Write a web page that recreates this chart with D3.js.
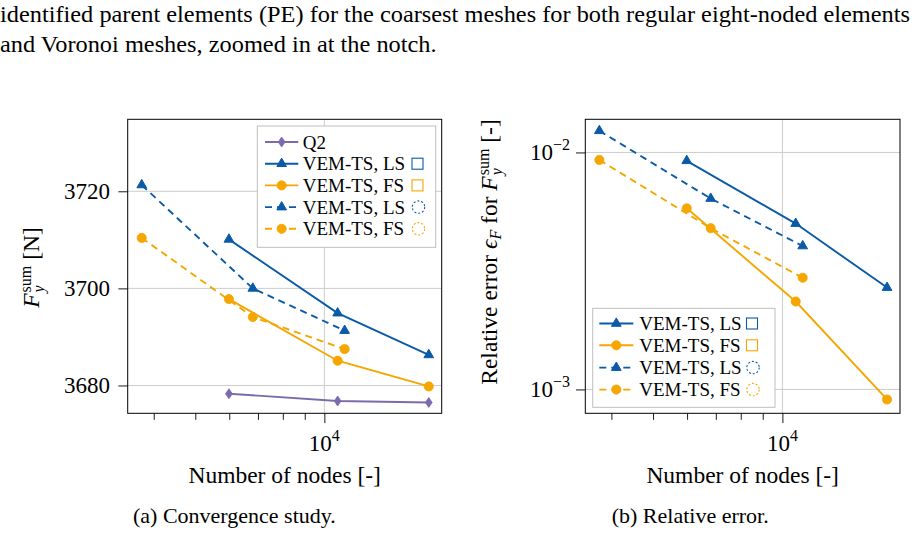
<!DOCTYPE html>
<html><head><meta charset="utf-8">
<script src="https://cdn.jsdelivr.net/npm/d3@7"></script>
<style>
body{margin:0;background:#fff}
svg{display:block}
text{font-family:"Liberation Serif","Times New Roman",serif;fill:#000}
</style>
</head><body>
<svg id="c" width="920" height="536"></svg>
<script>
// ---------------- data ----------------
const nodesRegular = [5990, 10740, 17520];
const nodesVoronoi = [3750, 6810, 11150];
const forceQ2    = [3678.3, 3676.8, 3676.5];
const forceLSReg = [3710.1, 3694.9, 3686.3];
const forceFSReg = [3697.8, 3685.1, 3679.8];
const forceLSVor = [3721.3, 3700.0, 3691.3];
const forceFSVor = [3710.4, 3694.1, 3687.5];
const errLSReg = [0.00922, 0.00501, 0.00269];
const errFSReg = [0.00581, 0.00235, 0.000907];
const errLSVor = [0.01234, 0.00639, 0.00403];
const errFSVor = [0.00930, 0.00479, 0.00296];
const xMajorTicks = [1e4];
const xMinorTicks = [4000, 5000, 6000, 7000, 8000, 9000];
const forceTicks = [3680, 3700, 3720];
const errTicks = [1e-3, 1e-2];
const errTickExp = ["\u22123", "\u22122"];
const legendLabels = ["Q2", "VEM-TS, LS", "VEM-TS, FS", "VEM-TS, LS", "VEM-TS, FS"];
const captionA = "(a) Convergence study.";
const captionB = "(b) Relative error.";
const xLabel = "Number of nodes [-]";
const topLines = ["identified parent elements (PE) for the coarsest meshes for both regular eight-noded elements",
                  "and Voronoi meshes, zoomed in at the notch."];

// ---------------- styles ----------------
const BLUE = "#0a5aa8", ORANGE = "#f5a600", PURPLE = "#7b6aae", GRID = "#cccccc";
const DASH = "7,5";
const svg = d3.select("#c");

// top paragraph (stretched horizontally to the reference's line width)
const t1 = svg.append("text").attr("x", 0).attr("y", 22).style("font-size", "22.5px").text(topLines[0]);
const t2 = svg.append("text").attr("x", 0).attr("y", 52).style("font-size", "22.5px").text(topLines[1]);
const w1 = t1.node().getComputedTextLength();
const w2 = t2.node().getComputedTextLength();
const stretch = 910 / w1;
t1.attr("textLength", 910).attr("lengthAdjust", "spacingAndGlyphs");
t2.attr("textLength", w2 * stretch).attr("lengthAdjust", "spacingAndGlyphs");

// ---------------- helpers ----------------
function marker(g, type, x, y, color) {
  if (type === "circle") {
    g.append("circle").attr("cx", x).attr("cy", y).attr("r", 4.6)
      .attr("fill", color).attr("stroke", color).attr("stroke-width", 0.8);
  } else if (type === "triangle") {
    const R = 5.6;
    g.append("path").attr("d", `M${x},${y - R}L${x + R * 0.866},${y + R / 2}L${x - R * 0.866},${y + R / 2}Z`)
      .attr("fill", color).attr("stroke", color).attr("stroke-width", 1).attr("stroke-linejoin", "miter");
  } else if (type === "diamond") {
    g.append("path").attr("d", `M${x},${y - 5}L${x + 3.4},${y}L${x},${y + 5}L${x - 3.4},${y}Z`)
      .attr("fill", color).attr("stroke", color).attr("stroke-width", 0.8);
  }
}

// math-ish label builder, pieces laid out along baseline
function buildLabel(g, pieces) {
  let cur = 0;
  const inner = g.append("g");
  pieces.forEach(p => {
    if (p.stack) {
      let mw = 0;
      p.stack.forEach(s => {
        const t = inner.append("text").attr("x", cur).attr("y", -s.shift)
          .style("font-size", s.size + "px").style("font-style", s.italic ? "italic" : "normal").text(s.text);
        mw = Math.max(mw, t.node().getComputedTextLength());
      });
      cur += mw;
    } else {
      const t = inner.append("text").attr("x", cur).attr("y", -(p.shift || 0))
        .style("font-size", p.size + "px").style("font-style", p.italic ? "italic" : "normal")
        .attr("xml:space", "preserve").text(p.text);
      cur += t.node().getComputedTextLength() + (p.after || 0);
    }
  });
  inner.attr("transform", `translate(${-cur / 2},0)`);
  return cur;
}

const xDomain = [3478, 18780];
const Y0 = 119.3, Y1 = 413.3;

function drawPanel(opts) {
  const { x0, x1, yScale, yTicks, yTickLabel, series, legend } = opts;
  const x = d3.scaleLog().domain(xDomain).range([x0, x1]);
  const g = svg.append("g");
  // grid
  const grid = g.append("g").attr("stroke", GRID).attr("stroke-width", 1);
  xMajorTicks.forEach(v => grid.append("line").attr("x1", x(v)).attr("x2", x(v)).attr("y1", Y0).attr("y2", Y1));
  yTicks.forEach(v => grid.append("line").attr("x1", x0).attr("x2", x1).attr("y1", yScale(v)).attr("y2", yScale(v)));

  // axes via d3 axis generators
  const axMajor = d3.axisBottom(x).tickValues(xMajorTicks).tickSize(9.8).tickFormat(() => "");
  const axMinor = d3.axisBottom(x).tickValues(xMinorTicks).tickSize(6.5).tickFormat(() => "");
  const axY = d3.axisLeft(yScale).tickValues(yTicks).tickSize(9.3).tickFormat(() => "");
  [axMajor, axMinor].forEach(a => {
    const ag = g.append("g").attr("transform", `translate(0,${Y1})`).call(a);
    ag.select(".domain").remove();
    ag.selectAll(".tick line").attr("stroke", "#000").attr("stroke-width", 0.9);
  });
  const ay = g.append("g").attr("transform", `translate(${x0},0)`).call(axY);
  ay.select(".domain").remove();
  ay.selectAll(".tick line").attr("stroke", "#000").attr("stroke-width", 0.9);

  // x tick labels 10^4
  xMajorTicks.forEach(v => {
    const lg = g.append("g").attr("transform", `translate(${x(v)},450.7)`);
    buildLabel(lg, [{ text: "10", size: 23 }, { text: String(Math.round(Math.log10(v))), size: 16, shift: 10 }]);
  });
  // y tick labels
  yTicks.forEach((v, i) => yTickLabel(g, v, i, yScale(v)));

  // lines
  const lineGen = d3.line().x(d => x(d[0])).y(d => yScale(d[1]));
  series.forEach(s => {
    const pts = s.x.map((xv, i) => [xv, s.y[i]]);
    g.append("path").attr("d", lineGen(pts)).attr("fill", "none").attr("stroke", s.color)
      .attr("stroke-width", 1.9).attr("stroke-dasharray", s.dashed ? DASH : null);
  });
  series.forEach(s => {
    s.x.forEach((xv, i) => marker(g, s.marker, x(xv), yScale(s.y[i]), s.color));
  });

  // axis box
  g.append("rect").attr("x", x0).attr("y", Y0).attr("width", x1 - x0).attr("height", Y1 - Y0)
    .attr("fill", "none").attr("stroke", "#000").attr("stroke-width", 1);

  // x label
  g.append("text").attr("x", (x0 + x1) / 2).attr("y", 483).attr("text-anchor", "middle")
    .style("font-size", "23.5px").text(xLabel);

  // legend
  const L = legend;
  const lg = g.append("g");
  lg.append("rect").attr("x", L.x).attr("y", L.y).attr("width", L.w).attr("height", L.h)
    .attr("fill", "#fff").attr("stroke", "#bfbfbf").attr("stroke-width", 1);
  L.items.forEach((s, i) => {
    const cy = L.rows[i];
    lg.append("line").attr("x1", L.lx0).attr("x2", L.lx1).attr("y1", cy).attr("y2", cy)
      .attr("stroke", s.color).attr("stroke-width", 1.9).attr("stroke-dasharray", s.dashed ? DASH : null);
    marker(lg, s.marker, (L.lx0 + L.lx1) / 2, cy, s.color);
    lg.append("text").attr("x", L.tx).attr("y", cy + 6.5).style("font-size", "19px").text(s.label);
    if (s.icon === "square") {
      lg.append("rect").attr("x", L.ix - 5.5).attr("y", cy - 5.5).attr("width", 11).attr("height", 11)
        .attr("fill", "none").attr("stroke", s.color).attr("stroke-width", 1.1);
    } else if (s.icon === "circle") {
      lg.append("circle").attr("cx", L.ix + 1).attr("cy", cy).attr("r", 6.2)
        .attr("fill", "none").attr("stroke", s.color).attr("stroke-width", 1.1).attr("stroke-dasharray", "2,1.9");
    }
  });
}

// ---------------- panel (a) ----------------
const yForce = d3.scaleLinear().domain([3674.27, 3734.83]).range([Y1, Y0]);
const seriesA = [
  { x: nodesRegular, y: forceQ2, color: PURPLE, marker: "diamond", dashed: false, label: legendLabels[0], icon: null },
  { x: nodesRegular, y: forceLSReg, color: BLUE, marker: "triangle", dashed: false, label: legendLabels[1], icon: "square" },
  { x: nodesRegular, y: forceFSReg, color: ORANGE, marker: "circle", dashed: false, label: legendLabels[2], icon: "square" },
  { x: nodesVoronoi, y: forceLSVor, color: BLUE, marker: "triangle", dashed: true, label: legendLabels[3], icon: "circle" },
  { x: nodesVoronoi, y: forceFSVor, color: ORANGE, marker: "circle", dashed: true, label: legendLabels[4], icon: "circle" }
];
drawPanel({
  x0: 127.7, x1: 441.7, yScale: yForce, yTicks: forceTicks,
  yTickLabel: (g, v, i, y) => g.append("text").attr("x", 110).attr("y", y + 8).attr("text-anchor", "end")
    .style("font-size", "23px").text(v),
  series: seriesA,
  legend: { x: 257.3, y: 126, w: 178.4, h: 121.3, rows: [142, 163.7, 185.4, 207.1, 228.8],
            lx0: 265, lx1: 298.3, tx: 302.7, ix: 417.5, items: seriesA }
});

// ---------------- panel (b) ----------------
const yErr = d3.scaleLog().domain([0.000793, 0.0138]).range([Y1, Y0]);
const seriesB = [
  { x: nodesRegular, y: errLSReg, color: BLUE, marker: "triangle", dashed: false, label: legendLabels[1], icon: "square" },
  { x: nodesRegular, y: errFSReg, color: ORANGE, marker: "circle", dashed: false, label: legendLabels[2], icon: "square" },
  { x: nodesVoronoi, y: errLSVor, color: BLUE, marker: "triangle", dashed: true, label: legendLabels[3], icon: "circle" },
  { x: nodesVoronoi, y: errFSVor, color: ORANGE, marker: "circle", dashed: true, label: legendLabels[4], icon: "circle" }
];
drawPanel({
  x0: 585.3, x1: 900, yScale: yErr, yTicks: errTicks,
  yTickLabel: (g, v, i, y) => {
    const t = g.append("text").attr("x", 570).attr("y", y + 8).attr("text-anchor", "end").style("font-size", "23px");
    t.append("tspan").text("10");
    t.append("tspan").attr("dy", -10).style("font-size", "16px").text(errTickExp[i]);
  },
  series: seriesB,
  legend: { x: 592.7, y: 308.3, w: 182.3, h: 99, rows: [323.5, 345.3, 367.6, 389.6],
            lx0: 599.3, lx1: 633.3, tx: 639.3, ix: 752, items: seriesB }
});

// ---------------- y labels ----------------
const yl1 = svg.append("g").attr("transform", "translate(39,267.5) rotate(-90)");
buildLabel(yl1, [
  { text: "F", italic: true, size: 23.5, after: 1 },
  { stack: [{ text: "sum", size: 16, shift: 8 }, { text: "y", size: 16, italic: true, shift: -5 }] },
  { text: " [N]", size: 23.5 }
]);
const yl2 = svg.append("g").attr("transform", "translate(497,252) rotate(-90)");
buildLabel(yl2, [
  { text: "Relative error ", size: 23.5 },
  { text: "\u03F5", italic: true, size: 23.5 },
  { text: "F", italic: true, size: 16, shift: -4 },
  { text: " for ", size: 23.5 },
  { text: "F", italic: true, size: 23.5, after: 1 },
  { stack: [{ text: "sum", size: 16, shift: 8 }, { text: "y", size: 16, italic: true, shift: -5 }] },
  { text: " [-]", size: 23.5 }
]);

// captions
svg.append("text").attr("x", 133).attr("y", 523).style("font-size", "22px").text(captionA);
svg.append("text").attr("x", 611.7).attr("y", 523).style("font-size", "22px").text(captionB);
</script>
</body></html>
